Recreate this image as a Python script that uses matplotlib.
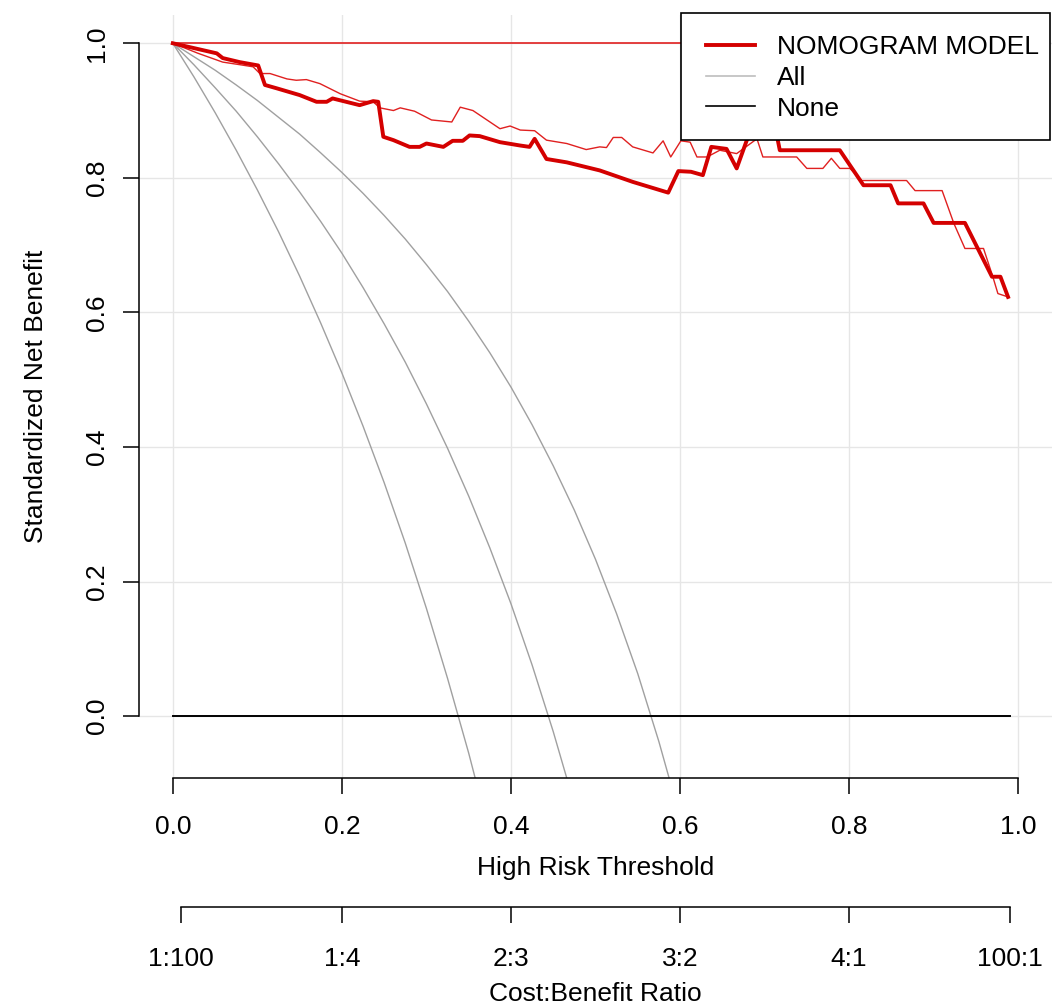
import numpy as np
import matplotlib
matplotlib.use("Agg")
import matplotlib.pyplot as plt
from matplotlib.patches import Rectangle

plt.rcParams['font.family'] = ['Liberation Sans', 'DejaVu Sans']

# decision curve, nomogram model (thick line)
nb_x = [0.0, 0.052, 0.059, 0.079, 0.101, 0.109, 0.123, 0.150, 0.170, 0.182, 0.189, 0.205,
        0.221, 0.237, 0.243, 0.249, 0.261, 0.280, 0.292, 0.300, 0.312, 0.320, 0.331, 0.343,
        0.351, 0.363, 0.387, 0.411, 0.422, 0.428, 0.442, 0.466, 0.505, 0.544, 0.586, 0.598,
        0.613, 0.627, 0.637, 0.655, 0.667, 0.679, 0.690, 0.705, 0.715, 0.718, 0.789, 0.817,
        0.849, 0.858, 0.888, 0.900, 0.937, 0.969, 0.979, 0.988]
nb_y = [1.0, 0.985, 0.978, 0.972, 0.967, 0.938, 0.933, 0.923, 0.913, 0.913, 0.918, 0.913,
        0.908, 0.914, 0.913, 0.861, 0.856, 0.846, 0.846, 0.851, 0.848, 0.846, 0.855, 0.855,
        0.863, 0.862, 0.853, 0.848, 0.846, 0.858, 0.828, 0.823, 0.811, 0.794, 0.778, 0.810,
        0.809, 0.804, 0.846, 0.843, 0.814, 0.856, 0.880, 0.870, 0.860, 0.841, 0.841, 0.789,
        0.789, 0.762, 0.762, 0.733, 0.733, 0.653, 0.653, 0.623]

# confidence band (thin lines)
ci_lo_x = [0.0, 0.030, 0.059, 0.080, 0.095, 0.103, 0.115, 0.135, 0.146, 0.158, 0.174, 0.198,
           0.221, 0.237, 0.245, 0.261, 0.269, 0.286, 0.306, 0.330, 0.340, 0.355, 0.387, 0.399,
           0.411, 0.428, 0.442, 0.466, 0.489, 0.505, 0.513, 0.521, 0.531, 0.544, 0.568, 0.580,
           0.589, 0.601, 0.612, 0.620, 0.632, 0.647, 0.667, 0.691, 0.698, 0.738, 0.750, 0.769,
           0.779, 0.789, 0.801, 0.815, 0.868, 0.878, 0.910, 0.924, 0.937, 0.959, 0.970, 0.976,
           0.988]
ci_lo_y = [1.0, 0.985, 0.972, 0.968, 0.965, 0.955, 0.955, 0.947, 0.945, 0.946, 0.940, 0.925,
           0.914, 0.913, 0.904, 0.900, 0.904, 0.899, 0.886, 0.883, 0.905, 0.900, 0.873, 0.877,
           0.871, 0.870, 0.856, 0.851, 0.842, 0.846, 0.845, 0.860, 0.860, 0.846, 0.837, 0.855,
           0.831, 0.855, 0.853, 0.831, 0.831, 0.841, 0.836, 0.858, 0.831, 0.831, 0.814, 0.814,
           0.829, 0.814, 0.814, 0.796, 0.796, 0.781, 0.781, 0.732, 0.695, 0.695, 0.653, 0.628,
           0.623]
ci_hi_x = [0.0, 0.99]
ci_hi_y = [1.0, 1.0]

# "All" curves (estimate and band), read every 0.025
all_x = [0.0, 0.025, 0.05, 0.075, 0.10, 0.125, 0.15, 0.175, 0.20, 0.225, 0.25, 0.275, 0.30,
         0.325, 0.35, 0.375, 0.40, 0.425, 0.45, 0.475, 0.50, 0.525, 0.55, 0.575, 0.60]
all_lo = [1.0, 0.950, 0.897, 0.841, 0.782, 0.720, 0.654, 0.584, 0.510, 0.431, 0.347, 0.257,
          0.160, 0.056, -0.055, -0.176]
all_mid = [1.0, 0.968, 0.934, 0.899, 0.861, 0.821, 0.779, 0.735, 0.688, 0.637, 0.583, 0.526,
           0.464, 0.398, 0.327, 0.250, 0.167, 0.076, -0.023, -0.131]
all_hi = [1.0, 0.980, 0.960, 0.938, 0.915, 0.890, 0.865, 0.837, 0.808, 0.777, 0.744, 0.709,
          0.671, 0.631, 0.587, 0.540, 0.489, 0.433, 0.372, 0.306, 0.233, 0.152, 0.063,
          -0.038, -0.150]

none_x = [0.0, 0.99]
none_y = [0.0, 0.0]

x_ticks = [0.0, 0.2, 0.4, 0.6, 0.8, 1.0]
y_ticks = [0.0, 0.2, 0.4, 0.6, 0.8, 1.0]
cb_ticks = [1 / 101, 0.2, 0.4, 0.6, 0.8, 100 / 101]
cb_labels = ['1:100', '1:4', '2:3', '3:2', '4:1', '100:1']

fs = 19
W, H = 1057, 1005
fig = plt.figure(figsize=(W / 100, H / 100), dpi=100)
ax = fig.add_axes([139 / W, 1 - 778 / H, (1052 - 139) / W, (778 - 15) / H])

ax.set_xlim(-0.04, 1.04)
ax.set_ylim(-0.092, 1.042)

for v in x_ticks:
    ax.axvline(v, color='#e6e6e6', lw=1.0, zorder=0)
for v in y_ticks:
    ax.axhline(v, color='#e6e6e6', lw=1.0, zorder=0)

for ys in (all_lo, all_mid, all_hi):
    ax.plot(all_x[:len(ys)], ys, color='#a0a0a0', lw=1.0, zorder=2)

ax.plot(none_x, none_y, color='black', lw=1.4, zorder=2)
ax.plot(ci_hi_x, ci_hi_y, color='#e02020', lw=1.2, zorder=3)
ax.plot(ci_lo_x, ci_lo_y, color='#e02020', lw=1.0, zorder=3)
ax.plot(nb_x, nb_y, color='#d40000', lw=2.8, zorder=4)

for s in ['top', 'right']:
    ax.spines[s].set_visible(False)
ax.spines['left'].set_bounds(0, 1)
ax.spines['bottom'].set_bounds(0, 1)
ax.spines['left'].set_linewidth(1.1)
ax.spines['bottom'].set_linewidth(1.1)

ax.set_xticks(x_ticks)
ax.set_xticklabels(['0.0', '0.2', '0.4', '0.6', '0.8', '1.0'])
ax.set_yticks(y_ticks)
ax.set_yticklabels(['0.0', '0.2', '0.4', '0.6', '0.8', '1.0'], rotation=90, va='center')
ax.tick_params(axis='x', length=11.5, width=1.1, labelsize=fs, pad=15.5)
ax.tick_params(axis='y', length=11.5, width=1.1, labelsize=fs, pad=10)
ax.set_xlabel('High Risk Threshold', fontsize=fs, labelpad=12)
ax.set_ylabel('Standardized Net Benefit', fontsize=fs, labelpad=27)

sec = ax.secondary_xaxis(-(907 - 778) / (778 - 15))
sec.set_xticks(cb_ticks)
sec.set_xticklabels(cb_labels)
sec.spines['bottom'].set_bounds(1 / 101, 100 / 101)
sec.spines['bottom'].set_linewidth(1.1)
sec.tick_params(axis='x', length=11.5, width=1.1, labelsize=fs, pad=17.5)
sec.set_xlabel('Cost:Benefit Ratio', fontsize=fs, labelpad=7.5)

# legend: frame drawn separately so its size matches the R box
frame = Rectangle((681 / W, 1 - 140 / H), (1050 - 681) / W, (140 - 13) / H,
                  transform=fig.transFigure, facecolor='white', edgecolor='black',
                  lw=1.2, zorder=9)
fig.patches.append(frame)

handles = [
    plt.Line2D([], [], color='#d40000', lw=2.8),
    plt.Line2D([], [], color='#bebebe', lw=1.2),
    plt.Line2D([], [], color='black', lw=1.2),
]
leg = fig.legend(handles, ['NOMOGRAM MODEL', 'All', 'None'], loc='upper left',
                 bbox_to_anchor=(706 / W, 1 - 35 / H), bbox_transform=fig.transFigure,
                 borderaxespad=0, borderpad=0, fontsize=fs, frameon=False,
                 handlelength=1.86, handletextpad=0.83, labelspacing=0.26)
leg.set_zorder(10)

fig.savefig('out.png', dpi=100)
